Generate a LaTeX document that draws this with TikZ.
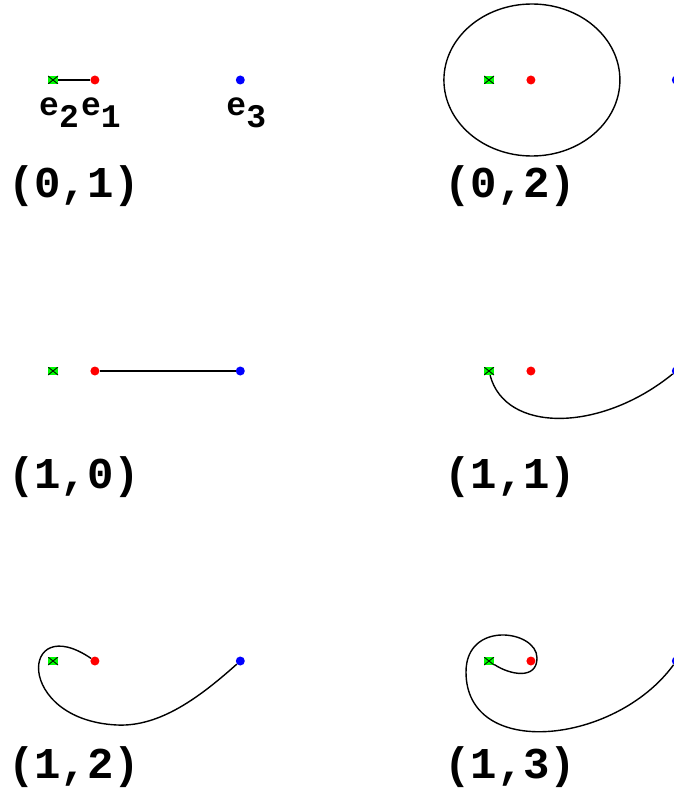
\documentclass[tikz,border=0pt]{standalone}
\usepackage{fontspec}
\setmonofont{Liberation Mono}
\usetikzlibrary{positioning}

\begin{document}
\begin{tikzpicture}[
  x=1pt, y=-1pt,
  reddot/.style={circle, fill=red, inner sep=0pt, minimum size=9pt},
  bluedot/.style={circle, fill=blue, inner sep=0pt, minimum size=9pt},
  greenmark/.style={rectangle, fill=green, inner sep=0pt,
                minimum width=10pt, minimum height=8pt,
                path picture={\draw[black, line width=0.8pt]
                  (path picture bounding box.north west) -- (path picture bounding box.south east)
                  (path picture bounding box.north east) -- (path picture bounding box.south west);}},
  elabel/.style={inner sep=0pt, xshift=6pt,
                font=\ttfamily\bfseries\fontsize{33}{33}\selectfont},
  caption/.style={anchor=west, inner sep=0pt,
                font=\ttfamily\bfseries\fontsize{44}{44}\selectfont},
  curve/.style={line width=1.4pt},
]
\useasboundingbox (0,0) rectangle (673,789);

% ---- (0,1) ----
\node[greenmark] (g01) at (53,80) {};
\node[reddot, right=32pt of g01] (r01) {};
\node[bluedot, right=136pt of r01] (b01) {};
\node[elabel, below=13pt of g01] (e2) {e\raisebox{-12pt}{2}};
\node[elabel, below=13pt of r01] (e1) {e\raisebox{-12pt}{1}};
\node[elabel, below=13pt of b01] (e3) {e\raisebox{-12pt}{3}};
\node[caption] (c01) at (8,186) {(0,1)};
\draw[curve] (g01) -- (r01);

% ---- (0,2) ----
\node[greenmark] (g02) at (489,80) {};
\node[reddot, right=32pt of g02] (r02) {};
\node[bluedot, right=136pt of r02] (b02) {};
\node[caption] (c02) at (444,186) {(0,2)};
\draw[curve] ([xshift=1pt]r02.center) ellipse [x radius=88pt, y radius=76pt];

% ---- (1,0) ----
\node[greenmark] (g10) at (53,371) {};
\node[reddot, right=32pt of g10] (r10) {};
\node[bluedot, right=136pt of r10] (b10) {};
\node[caption] (c10) at (8,477) {(1,0)};
\draw[curve] (r10) -- (b10);

% ---- (1,1) ----
\node[greenmark] (g11) at (489,371) {};
\node[reddot, right=32pt of g11] (r11) {};
\node[bluedot, right=136pt of r11] (b11) {};
\node[caption] (c11) at (444,477) {(1,1)};
\draw[curve] (g11) .. controls (505,433) and (600,433) .. (b11);

% ---- (1,2) ----
\node[greenmark] (g12) at (53,661) {};
\node[reddot, right=32pt of g12] (r12) {};
\node[bluedot, right=136pt of r12] (b12) {};
\node[caption] (c12) at (8,767) {(1,2)};
\coordinate (low12) at (117,725);
\draw[curve] (r12) .. controls (20,610) and (14,720) .. (low12)
  .. controls (160,727) and (200,697) .. (b12);

% ---- (1,3) ----
\node[greenmark] (g13) at (489,661) {};
\node[reddot, right=32pt of g13] (r13) {};
\node[bluedot, right=136pt of r13] (b13) {};
\node[caption] (c13) at (444,767) {(1,3)};
\coordinate (rt13) at (537,658);
\coordinate (lf13) at (466,672);
\draw[curve] (g13) .. controls (510,675) and (537,680) .. (rt13)
  .. controls (537,630) and (466,620) .. (lf13)
  .. controls (466,760) and (615,745) .. (b13);

\end{tikzpicture}
\end{document}
